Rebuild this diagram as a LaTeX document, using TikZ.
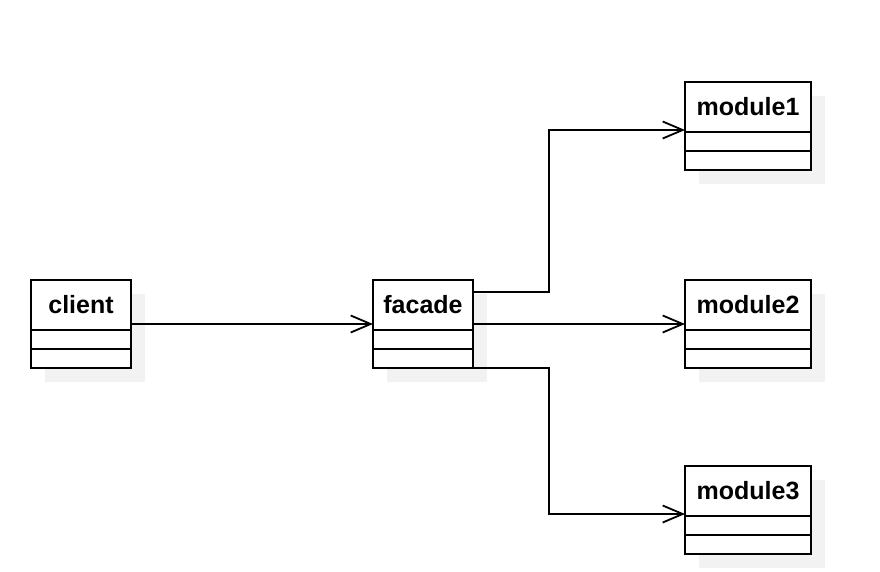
\documentclass[tikz,border=0pt]{standalone}
\usepackage{fontspec}
\setmainfont{Liberation Sans}
\usetikzlibrary{positioning,calc,arrows.meta}
\definecolor{shadowgray}{RGB}{242,242,242}
\tikzset{
  classtitle/.style={draw,fill=white,line width=1.8pt,outer sep=0pt,inner sep=0pt,minimum height=50pt,font=\bfseries\fontsize{25}{29}\selectfont},
  classpart/.style={draw,fill=white,line width=1.8pt,outer sep=0pt,inner sep=0pt,minimum height=19pt},
  assoc/.style={line width=1.8pt,-{Straight Barb[length=20pt,width=17pt]}}
}
% #1 name, #2 left, #3 top, #4 width, #5 label
\newcommand{\umlclass}[5]{
  \fill[shadowgray] (#2+14,#3+14) rectangle ++(#4,88);
  \node[classtitle,minimum width=#4pt,anchor=north west] (#1) at (#2,#3) {#5};
  \node[classpart,minimum width=#4pt,below=0pt of #1] (#1-a) {};
  \node[classpart,minimum width=#4pt,below=0pt of #1-a] (#1-b) {};
}

\begin{document}
\begin{tikzpicture}[x=1pt,y=-1pt]
  \useasboundingbox (0,0) rectangle (880,572);
  \umlclass{client}{31}{280}{100}{client}
  \umlclass{facade}{373}{280}{100}{facade}
  \umlclass{module1}{685}{82}{126}{module1}
  \umlclass{module2}{685}{280}{126}{module2}
  \umlclass{module3}{685}{466}{126}{module3}

  \draw[assoc] ([yshift=6pt]client-a.north east) -- ([yshift=6pt]facade-a.north west);
  \draw[assoc] ([yshift=-12pt]facade.north east) -- ++(76,0) |- ([yshift=2pt]module1-a.north west);
  \draw[assoc] ([yshift=6pt]facade-a.north east) -- ([yshift=6pt]module2-a.north west);
  \draw[assoc] (facade-b.south east) -- ++(76,0) |- ([yshift=2pt]module3-a.north west);
%  \draw[assoc] (facade.east) -- (module2.west);
\end{tikzpicture}
\end{document}
